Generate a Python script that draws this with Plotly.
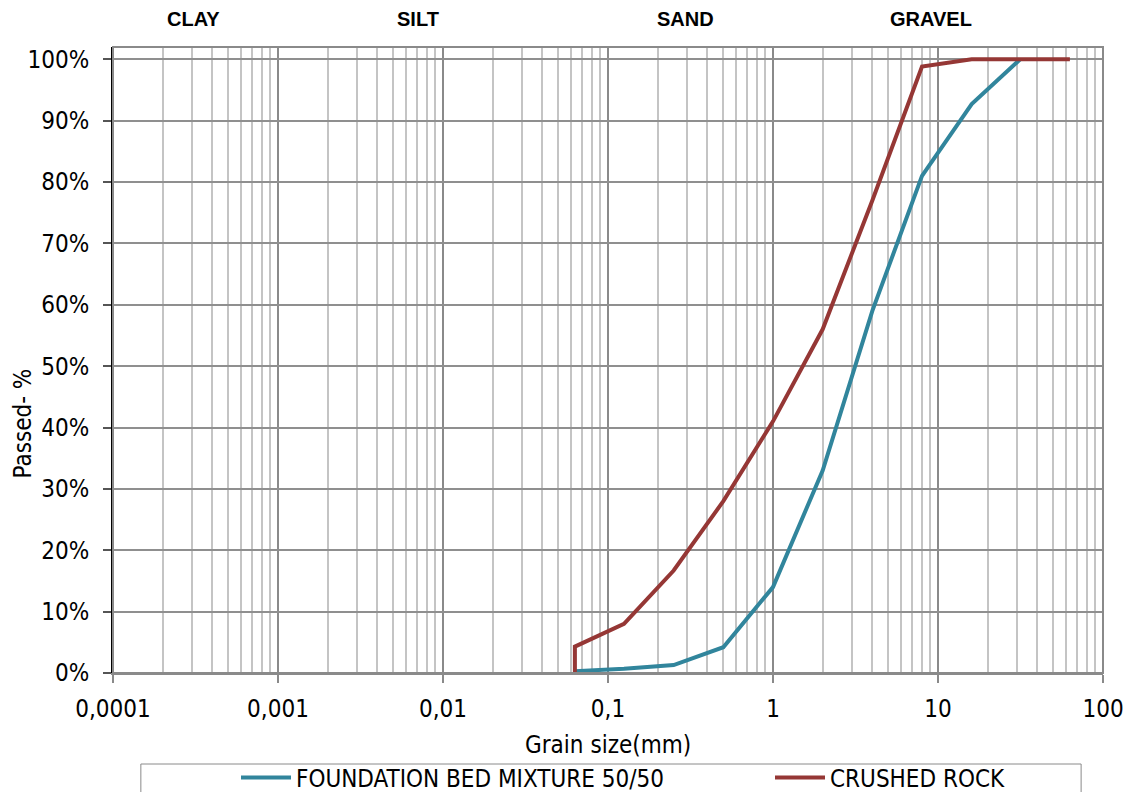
import plotly.graph_objects as go

# data
sieve_fb = [0.063, 0.125, 0.25, 0.5, 1, 2, 4, 8, 16, 31.5]
pass_fb = [0.003, 0.007, 0.013, 0.042, 0.14, 0.33, 0.59, 0.81, 0.927, 1.0]

sieve_cr = [0.063, 0.063, 0.125, 0.25, 0.5, 1, 2, 4, 8, 16, 31.5, 63]
pass_cr = [0.0, 0.043, 0.08, 0.167, 0.28, 0.41, 0.56, 0.77, 0.988, 1.0, 1.0, 1.0]

x_tickvals = [0.0001, 0.001, 0.01, 0.1, 1, 10, 100]
x_ticktext = ["0,0001", "0,001", "0,01", "0,1", "1", "10", "100"]

zone_labels = ["CLAY", "SILT", "SAND", "GRAVEL"]
zone_px = [194, 420, 688, 935]

BLUE = "#31859C"
RED = "#953735"
FONT = "DejaVu Sans Condensed, Liberation Sans, Arial, sans-serif"
FS = 24
FS_LEG = 24

# page body has an 8px margin; work in page pixels and convert
OFF = 8
W, H = 1136 - OFF, 792 - OFF
L, R, T, B = 113 - OFF, 1108 - OFF, 47 - OFF, 673 - OFF


def px_to_paper_x(px):
    return (px - OFF - L) / (R - L)


def px_to_paper_y(py):
    return (B - (py - OFF)) / (B - T)


fig = go.Figure()
fig.add_trace(go.Scatter(x=sieve_fb, y=pass_fb, mode="lines", name="FOUNDATION BED MIXTURE 50/50",
                         line=dict(color=BLUE, width=4), legend="legend"))
fig.add_trace(go.Scatter(x=sieve_cr, y=pass_cr, mode="lines", name="CRUSHED ROCK",
                         line=dict(color=RED, width=4), legend="legend2"))

leg_common = dict(orientation="h", xref="container", yref="container", xanchor="left", yanchor="middle",
                  font=dict(family=FONT, size=FS_LEG, color="black"), bgcolor="rgba(0,0,0,0)",
                  itemwidth=50)

fig.update_layout(
    width=W, height=H,
    margin=dict(l=L, r=W - R, t=T, b=H - B),
    paper_bgcolor="white", plot_bgcolor="white",
    font=dict(family=FONT, size=FS, color="black"),
    showlegend=True,
    legend=dict(x=(236 - OFF) / W, y=1 - (778 - OFF) / H, **leg_common),
    legend2=dict(x=(770 - OFF) / W, y=1 - (778 - OFF) / H, **leg_common),
)

fig.update_xaxes(
    type="log", range=[-4, 2],
    tickvals=x_tickvals, ticktext=x_ticktext,
    showgrid=True, gridcolor="#8a8a8a", gridwidth=1.5,
    minor=dict(dtick="D1", showgrid=True, gridcolor="#c4c4c4", gridwidth=1.5),
    ticks="outside", ticklen=8, tickcolor="#8a8a8a", tickwidth=1.5,
    ticklabelstandoff=5,
    showline=True, linecolor="#8a8a8a", linewidth=2,
    zeroline=False,
    tickfont=dict(family=FONT, size=FS),
)
fig.update_yaxes(
    range=[0, 1.02], dtick=0.1, tick0=0, tickformat=".0%",
    showgrid=True, gridcolor="#8f8f8f", gridwidth=1.5,
    ticks="outside", ticklen=8, tickcolor="#555", tickwidth=1.5,
    ticklabelstandoff=9,
    showline=True, linecolor="black", linewidth=2,
    zeroline=False,
    tickfont=dict(family=FONT, size=FS),
)

# plot border (top/right)
fig.add_shape(type="rect", xref="paper", yref="paper", x0=0, x1=1, y0=0, y1=1,
              line=dict(color="#8a8a8a", width=2), layer="above")
# legend box
fig.add_shape(type="rect", xref="paper", yref="paper",
              x0=px_to_paper_x(141), x1=px_to_paper_x(1086),
              y0=px_to_paper_y(805), y1=px_to_paper_y(764),
              line=dict(color="#8a8a8a", width=1))

for lab, px in zip(zone_labels, zone_px):
    fig.add_annotation(text="<b>" + lab + "</b>", xref="paper", yref="paper",
                       x=px_to_paper_x(px), y=px_to_paper_y(19),
                       showarrow=False, xanchor="center", yanchor="middle",
                       font=dict(family="Liberation Sans, Arial, sans-serif", size=20, color="black"))

fig.add_annotation(text="Grain size(mm)", xref="paper", yref="paper", x=0.5, y=px_to_paper_y(745),
                   showarrow=False, xanchor="center", yanchor="middle",
                   font=dict(family=FONT, size=FS))
fig.add_annotation(text="Passed- %", xref="paper", yref="paper", x=px_to_paper_x(23), y=px_to_paper_y(423),
                   showarrow=False, textangle=-90, xanchor="center", yanchor="middle",
                   font=dict(family=FONT, size=FS))

fig.write_html("out.html")
